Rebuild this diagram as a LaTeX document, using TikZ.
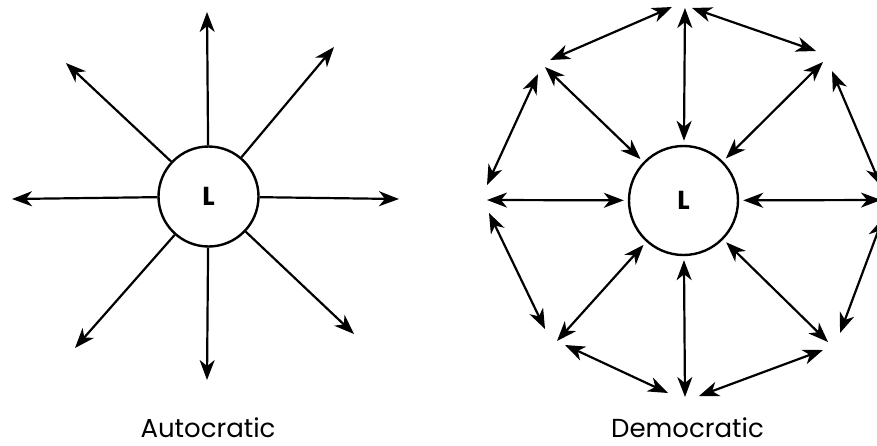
\documentclass[tikz,border=0pt]{standalone}
\usepackage{fontspec}
\setmainfont{Poppins}
\usetikzlibrary{arrows.meta}
\begin{document}
\begin{tikzpicture}[x=1pt,y=-1pt,
  tipst/.tip={Stealth[length=20pt,width=15pt,inset=6pt]},
  arr/.style={line width=2.2pt,-tipst},
  darr/.style={line width=2.2pt,tipst-tipst},
  lead/.style={circle,draw,line width=2.4pt,minimum size=#1,inner sep=0pt,font=\fontsize{26}{26}\selectfont\bfseries},
  lab/.style={font=\fontsize{26}{26}\selectfont,anchor=base,inner sep=0pt}]
\useasboundingbox (0,0) rectangle (877,445);
% ---------- Autocratic ----------
\node[lead=100pt] (A) at (208.5,196.5) {L};
\coordinate (an) at (207,12);
\coordinate (as) at (207,380);
\coordinate (aw) at (12,199);
\coordinate (ae) at (399,199);
\coordinate (anw) at (66,63);
\coordinate (ane) at (334,47);
\coordinate (asw) at (75,348);
\coordinate (ase) at (354,334);
\foreach \t in {an,as,aw,ae,anw,ane,asw,ase}
  \draw[arr] (A) -- (\t);
\node[lab] (ta) at (208,437) {Autocratic};
% ---------- Democratic ----------
\node[lead=109pt] (B) at (683.5,200.5) {L};
\node[lab] (tb) at (687.5,437) {Democratic};
\begin{scope}
\clip (0,0) rectangle (877,445);
\coordinate (dn) at (685,8);
\coordinate (ds) at (685,397);
\coordinate (dw) at (487,200);
\coordinate (de) at (881,200);
\coordinate (dnw) at (545,67);
\coordinate (dne) at (823,62);
\coordinate (dsw) at (557,341);
\coordinate (dse) at (828,342);
\foreach \t in {dn,ds,dw,de,dnw,dne,dsw,dse}
  \draw[darr,shorten >=4pt] (\t) -- (B);
% ring
\coordinate (r1a) at (550,60);  \coordinate (r1b) at (672,7);
\coordinate (r2a) at (692,8);   \coordinate (r2b) at (816,51);
\coordinate (r3a) at (538,74);  \coordinate (r3b) at (487,185);
\coordinate (r4a) at (489,213); \coordinate (r4b) at (545,329);
\coordinate (r5a) at (565,345); \coordinate (r5b) at (668,393);
\coordinate (r6a) at (699,396); \coordinate (r6b) at (823,350);
\coordinate (r7a) at (832,71);  \coordinate (r7b) at (881,186);
\coordinate (r8a) at (840,333); \coordinate (r8b) at (883,218);
\foreach \i in {1,...,8}
  \draw[darr] (r\i a) -- (r\i b);
\end{scope}
\end{tikzpicture}
\end{document}
